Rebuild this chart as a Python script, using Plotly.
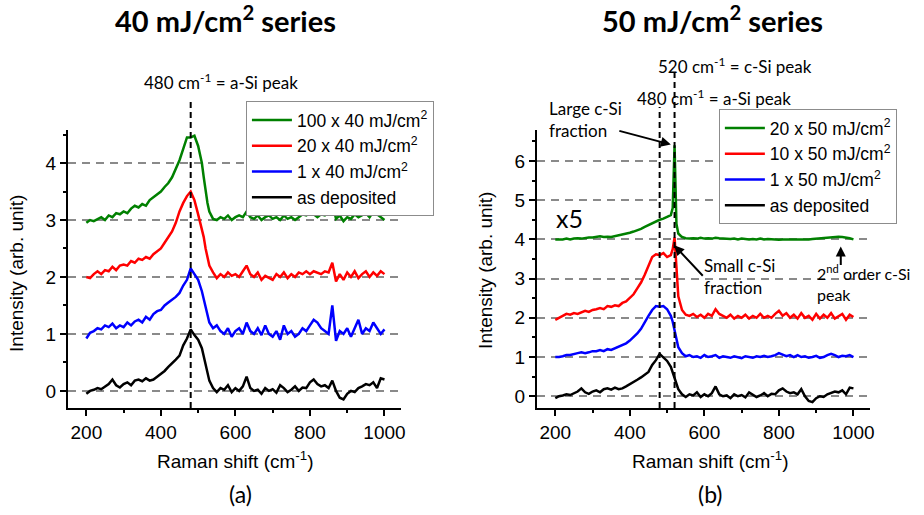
import plotly.graph_objects as go

# Raman shift axis (cm^-1), shared by every spectrum
shift = list(range(200, 511, 10)) + [515, 520, 525] + list(range(530, 1001, 10))

# --- 40 mJ/cm2 series (offset by 1 per curve) ---
as_dep = [
    -0.05, 0.0, 0.02, 0.05, 0.03, 0.08, 0.12, 0.2, 0.1, 0.06,
    0.12, 0.15, 0.1, 0.18, 0.2, 0.17, 0.22, 0.18, 0.2, 0.25,
    0.3, 0.35, 0.42, 0.48, 0.55, 0.62, 0.8, 0.92, 1.08, 0.98,
    0.9, 0.75,
    0.62, 0.45, 0.35,
    0.18, 0.05, -0.02, 0.05, 0.02, 0.1, -0.02, 0.05, 0.0, 0.08,
    0.25, 0.05, 0.0, 0.02, -0.05, 0.05, 0.0, 0.03, -0.03, 0.1,
    0.05, -0.02, 0.02, 0.08, 0.0, 0.06, 0.05, 0.15, 0.2, 0.12,
    0.08, 0.1, 0.05, 0.18, 0.0, -0.12, -0.15, -0.05, 0.0, -0.02,
    0.05, 0.08, 0.12, 0.1, 0.15, 0.05, 0.22, 0.2,
]
x1_40 = [
    0.92, 1.02, 1.05, 1.1, 1.08, 1.15, 1.12, 1.18, 1.1, 1.15,
    1.12, 1.2, 1.15, 1.22, 1.25, 1.2, 1.3, 1.25, 1.35, 1.4,
    1.42, 1.5, 1.55, 1.6, 1.65, 1.72, 1.85, 1.95, 2.15, 2.05,
    1.95, 1.75,
    1.6, 1.45, 1.3,
    1.2, 1.1, 1.15, 1.05, 1.0, 1.1, 0.95, 1.05, 1.1, 1.0,
    1.2, 1.05, 1.0, 1.1, 0.98, 1.15, 1.0, 0.95, 1.05, 0.9,
    1.15, 1.0, 1.05, 0.95, 1.0, 1.1, 1.05, 1.15, 1.25, 1.2,
    1.1, 1.05, 1.0, 1.5, 0.88, 1.05, 1.0, 1.1, 0.95, 1.1,
    1.25, 1.0, 1.1, 1.05, 1.2, 1.1, 1.0, 1.08,
]
x20_40 = [
    2.0, 1.98, 2.05, 2.1, 2.05, 2.12, 2.1, 2.18, 2.12, 2.2,
    2.22, 2.2, 2.28, 2.25, 2.32, 2.3, 2.35, 2.32, 2.4, 2.45,
    2.5, 2.6, 2.7, 2.8, 2.95, 3.15, 3.3, 3.42, 3.5, 3.35,
    3.1, 2.85,
    2.7, 2.5, 2.32,
    2.2, 2.08, 1.98, 2.05, 2.0, 2.08, 2.02, 2.05, 2.0, 2.1,
    2.2, 2.05, 2.0, 2.08, 1.95, 2.02, 1.98, 1.95, 2.05, 2.0,
    2.08, 1.98, 2.05, 2.0, 2.08, 2.05, 2.1, 2.05, 2.1, 2.08,
    2.05, 2.1, 2.08, 2.25, 1.92, 2.05, 1.95, 2.08, 2.0, 2.1,
    1.98, 2.05, 2.1, 2.0, 2.08, 2.02, 2.1, 2.05,
]
x100_40 = [
    2.95, 3.0, 2.98, 3.02, 3.05, 3.0, 3.08, 3.05, 3.12, 3.1,
    3.15, 3.12, 3.2, 3.25, 3.22, 3.28, 3.25, 3.35, 3.4, 3.45,
    3.5, 3.58, 3.65, 3.75, 3.9, 4.05, 4.25, 4.45, 4.45, 4.48,
    4.3, 4.0,
    3.75, 3.5, 3.3,
    3.15, 3.02, 3.0, 3.05, 3.02, 3.08, 3.0, 3.05, 3.08, 3.05,
    3.15, 3.05, 3.02, 3.08, 3.0, 3.05, 3.08, 3.02, 3.05, 3.0,
    3.08, 3.02, 3.05, 3.0, 3.05, 3.1, 3.08, 3.12, 3.1, 3.05,
    3.1, 3.08, 3.12, 3.3, 3.02, 3.08, 2.98, 3.05, 3.02, 3.1,
    3.05, 3.08, 3.12, 3.05, 3.15, 3.1, 3.05, 3.0,
]

# --- 50 mJ/cm2 series ---
x1_50 = [
    1.0, 1.0, 1.02, 1.05, 1.05, 1.08, 1.1, 1.12, 1.1, 1.12,
    1.15, 1.15, 1.18, 1.15, 1.2, 1.18, 1.22, 1.25, 1.3, 1.35,
    1.42, 1.5, 1.6, 1.72, 1.9, 2.05, 2.2, 2.3, 2.28, 2.3,
    2.22, 2.05,
    1.9, 1.7, 1.45,
    1.25, 1.1, 1.02, 1.05, 1.0, 1.02, 0.98, 1.05, 1.0, 1.02,
    1.05, 0.98, 1.02, 1.0, 0.98, 1.02, 1.0, 0.97, 1.02, 1.0,
    0.98, 1.02, 1.0, 1.03, 1.0, 1.02, 1.05, 1.1, 1.05, 1.02,
    1.05, 1.0, 1.05, 1.0, 1.02, 0.98, 1.0, 1.03, 0.98, 1.0,
    1.05, 1.08, 1.05, 1.0, 1.03, 1.02, 1.05, 1.0,
]
x10_50 = [
    1.95, 2.0, 2.05, 2.1, 2.08, 2.12, 2.1, 2.15, 2.18, 2.15,
    2.2, 2.22, 2.25, 2.22, 2.3, 2.28, 2.32, 2.3, 2.38, 2.42,
    2.5, 2.6, 2.75, 2.9, 3.1, 3.35, 3.55, 3.62, 3.6, 3.65,
    3.55, 3.6,
    3.75, 4.05, 3.2,
    2.55, 2.2, 2.08, 2.05, 2.1, 2.02, 2.08, 2.0, 2.1, 2.05,
    2.22, 2.1, 2.05, 2.0, 2.08, 1.98, 2.05, 2.0, 2.08, 1.98,
    2.05, 2.0, 2.1, 2.0, 2.05, 2.0, 2.1, 2.18, 2.05, 2.12,
    2.0, 2.08, 1.98, 2.12, 2.0, 2.05, 1.95, 2.1, 1.98, 2.08,
    2.0, 2.12, 1.98, 2.05, 2.1, 1.95, 2.08, 2.02,
]
x20_50 = [
    4.0, 4.0, 4.0, 4.02, 4.0, 4.02, 4.03, 4.02, 4.04, 4.05,
    4.05, 4.06, 4.08, 4.06, 4.07, 4.06, 4.08, 4.1, 4.12, 4.15,
    4.17, 4.2, 4.23, 4.27, 4.32, 4.37, 4.42, 4.46, 4.5, 4.53,
    4.57, 4.62,
    4.8, 6.4, 4.4,
    4.15, 4.06, 4.03, 4.02, 4.03, 4.02, 4.04, 4.02, 4.03, 4.02,
    4.04, 4.03, 4.02, 4.02, 4.01, 4.02, 4.0, 4.02, 4.01, 4.0,
    4.01, 4.0, 4.02, 4.0, 4.01, 4.0, 4.0, 3.99, 4.0, 4.0,
    3.99, 4.0, 4.0, 3.99, 4.0, 4.0, 4.01, 4.02, 4.03, 4.04,
    4.05, 4.06, 4.07, 4.07, 4.06, 4.05, 4.03, 4.0,
]

GREEN, RED, BLUE, BLACK = "#008000", "#ff0000", "#0000ff", "#000000"
ARIAL = "Liberation Sans"
CALIBRI = "Lato"

left_series = [
    ("100 x 40 mJ/cm<sup>2</sup>", x100_40, GREEN),
    ("20 x 40 mJ/cm<sup>2</sup>", x20_40, RED),
    ("1 x 40 mJ/cm<sup>2</sup>", x1_40, BLUE),
    ("as deposited", as_dep, BLACK),
]
right_series = [
    ("20 x 50 mJ/cm<sup>2</sup>", x20_50, GREEN),
    ("10 x 50 mJ/cm<sup>2</sup>", x10_50, RED),
    ("1 x 50 mJ/cm<sup>2</sup>", x1_50, BLUE),
    ("as deposited", as_dep, BLACK),
]

fig = go.Figure()
for i, (name, y, color) in enumerate(left_series):
    fig.add_trace(go.Scatter(x=shift, y=y, mode="lines", name=name,
                             line=dict(color=color, width=2.5),
                             xaxis="x", yaxis="y", legend="legend",
                             legendgroup=f"l{i}"))
for i, (name, y, color) in enumerate(right_series):
    fig.add_trace(go.Scatter(x=shift, y=y, mode="lines", name=name,
                             line=dict(color=color, width=2.5),
                             xaxis="x2", yaxis="y2", legend="legend2",
                             legendgroup=f"r{i}"))

W, H = 924, 515


def px(x):
    return x / W


def py(y):
    return (H - y) / H


axis_common = dict(
    showline=True, linecolor="black", linewidth=1.5, mirror=False,
    ticks="outside", ticklen=6, tickwidth=1.5, tickcolor="black",
    zeroline=False, tickfont=dict(family=ARIAL, size=19, color="black"),
)
xaxis_common = dict(axis_common, range=[150, 1045], tick0=200, dtick=200,
                    showgrid=False,
                    minor=dict(dtick=100, ticks="outside", ticklen=3,
                               tickcolor="black", tickwidth=1.5))
yaxis_common = dict(axis_common, tick0=0, dtick=1, showgrid=True,
                    gridcolor="#8a8a8a", gridwidth=1.5, griddash="8px,6px",
                    minor=dict(dtick=0.5, ticks="outside", ticklen=3,
                               tickcolor="black", tickwidth=1.5))

ydom = [py(408), py(130)]
legend_common = dict(
    bgcolor="white", bordercolor="#8c8c8c", borderwidth=1,
    font=dict(family=ARIAL, size=17.5, color="black"),
    traceorder="normal", tracegroupgap=0, itemwidth=40,
    xanchor="left", yanchor="top",
)

fig.update_layout(
    width=W, height=H, margin=dict(l=0, r=0, t=0, b=0),
    paper_bgcolor="white", plot_bgcolor="white",
    xaxis=dict(xaxis_common, domain=[px(68), px(403)], anchor="y"),
    yaxis=dict(yaxis_common, domain=ydom, range=[-0.3, 4.58], anchor="x"),
    xaxis2=dict(xaxis_common, domain=[px(539), px(874)], anchor="y2"),
    yaxis2=dict(yaxis_common, domain=ydom, range=[-0.3, 6.79], anchor="x2"),
    legend=dict(legend_common, x=px(247), y=py(101)),
    legend2=dict(legend_common, x=px(722), y=py(109)),
    showlegend=True,
)

# vertical peak markers
for xref, xv, top in [("x", 480, 98), ("x2", 480, 107), ("x2", 520, 73)]:
    fig.add_shape(type="line", xref=xref, yref="paper", x0=xv, x1=xv,
                  y0=py(408), y1=py(top),
                  line=dict(color="black", width=2, dash="6px,4px"))


def text(x, y, s, size=17, family=CALIBRI, xanchor="center", align="center",
         **kw):
    fig.add_annotation(x=px(x), y=py(y), xref="paper", yref="paper", text=s,
                       showarrow=False, xanchor=xanchor, yanchor="middle",
                       align=align, font=dict(family=family, size=size,
                                              color="black"), **kw)


# panel titles and labels
text(226, 19, "<b>40 mJ/cm<sup>2</sup> series</b>", size=29)
text(716, 19, "<b>50 mJ/cm<sup>2</sup> series</b>", size=29)
text(242, 494, "(a)", size=23)
text(714, 494, "(b)", size=23)

# axis titles
text(236, 460, "Raman shift (cm<sup>-1</sup>)", size=19, family=ARIAL)
text(713, 460, "Raman shift (cm<sup>-1</sup>)", size=19, family=ARIAL)
text(16, 273, "Intensity (arb. unit)", size=19, family=ARIAL, textangle=-90)
text(487, 270, "Intensity (arb. unit)", size=19, family=ARIAL, textangle=-90)

# peak annotations
text(222, 81, "480 cm<sup>-1</sup> = a-Si peak")
text(738, 65, "520 cm<sup>-1</sup> = c-Si peak")
text(717, 98, "480 cm<sup>-1</sup> = a-Si peak")
text(549, 119, "Large c-Si<br>fraction", xanchor="left", align="left")
text(705, 276, "Small c-Si<br>fraction", xanchor="left", align="left")
text(819, 283, "2<sup>nd</sup> order c-Si<br>peak", size=16, xanchor="left",
     align="left")
text(572, 218, "x5", size=25)

arrow = dict(xref="x2", yref="y2", text="", showarrow=True, arrowhead=2,
             arrowsize=1, arrowwidth=2, arrowcolor="black")
fig.add_annotation(arrow, x=510, y=6.42, ax=-53, ay=-14)
fig.add_annotation(arrow, x=519, y=3.85, ax=30, ay=32)
fig.add_annotation(arrow, x=966, y=3.82, ax=0, ay=20)

fig.write_html("out.html", config={"displayModeBar": False},
               post_script="document.body.style.margin='0px';")
